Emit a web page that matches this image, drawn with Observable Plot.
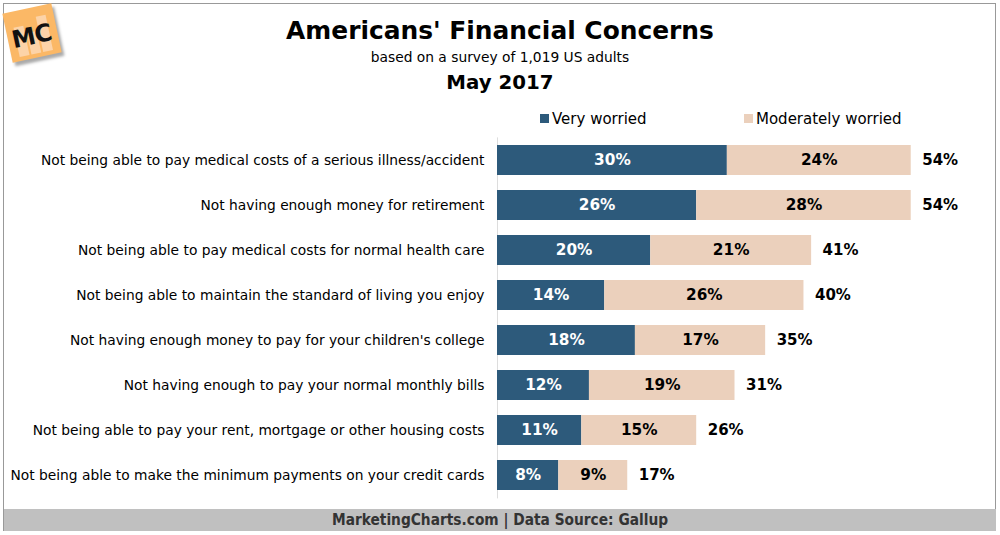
<!DOCTYPE html>
<html>
<head>
<meta charset="utf-8">
<script src="https://cdn.jsdelivr.net/npm/d3@7"></script>
<script src="https://cdn.jsdelivr.net/npm/@observablehq/plot@0.6"></script>
<style>
  html, body { margin: 0; padding: 0; background: #fff; }
  body { width: 1000px; height: 535px; position: relative; overflow: hidden; font-family: "DejaVu Sans", Verdana, sans-serif; }
  #frame { position: absolute; left: 3px; top: 3px; width: 993px; height: 528px; border: 1px solid #999; box-sizing: border-box; }
  .title { position: absolute; left: 0; width: 1000px; text-align: center; color: #000; }
  #t1 { top: 15.5px; font-size: 24.9px; font-weight: bold; }
  #t2 { top: 49px; font-size: 13.8px; }
  #t3 { top: 71px; font-size: 19.8px; font-weight: bold; }
  #legend { position: absolute; top: 110px; left: 0; width: 1000px; height: 20px; font-size: 15px; }
  .lg { position: absolute; top: 0; white-space: nowrap; }
  .sw { display: inline-block; width: 9px; height: 9px; margin-right: 3px; vertical-align: 1px; }
  #chart { position: absolute; left: 0; top: 131px; }
  #footer { position: absolute; left: 4px; top: 509px; width: 992px; height: 22px; background: #c0c0c0; text-align: center;
            font-family: "DejaVu Sans Condensed", "DejaVu Sans", sans-serif; font-stretch: condensed; font-weight: bold; font-size: 15.3px; line-height: 22px; color: #333; }
  #logo { position: absolute; left: 7px; top: 8px; width: 50px; height: 50px; transform: rotate(-12deg); background: #fbb866; box-shadow: 2px 4px 3px #aaa; }
  #logo span { position: absolute; left: 4px; top: 14px; font-family: "DejaVu Sans", sans-serif; font-weight: bold; font-size: 24px; color: #111; letter-spacing: -1px; }
  #logo .b { position: absolute; bottom: 4px; width: 10px; background: #fcd3a8; }
</style>
</head>
<body>
<div id="frame"></div>
<div id="logo"><div class="b" style="left:8px;height:30px"></div><div class="b" style="left:20px;height:22px"></div><div class="b" style="left:32px;height:36px"></div><span>MC</span></div>
<div class="title" id="t1">Americans' Financial Concerns</div>
<div class="title" id="t2">based on a survey of 1,019 US adults</div>
<div class="title" id="t3">May 2017</div>
<div id="legend"></div>
<div id="chart"></div>
<div id="footer">MarketingCharts.com | Data Source: Gallup</div>
<script>
const categories = [
  "Not being able to pay medical costs of a serious illness/accident",
  "Not having enough money for retirement",
  "Not being able to pay medical costs for normal health care",
  "Not being able to maintain the standard of living you enjoy",
  "Not having enough money to pay for your children's college",
  "Not having enough to pay your normal monthly bills",
  "Not being able to pay your rent, mortgage or other housing costs",
  "Not being able to make the minimum payments on your credit cards"
];
const series = ["Very worried", "Moderately worried"];
const veryWorried = [30, 26, 20, 14, 18, 12, 11, 8];
const moderatelyWorried = [24, 28, 21, 26, 17, 19, 15, 9];
const totals = [54, 54, 41, 40, 35, 31, 26, 17];
const colors = ["#2d5a7b", "#ebd0bc"];

const rows = [];
categories.forEach((c, i) => {
  rows.push({category: c, series: series[0], x1: 0, x2: veryWorried[i], value: veryWorried[i]});
  rows.push({category: c, series: series[1], x1: veryWorried[i], x2: veryWorried[i] + moderatelyWorried[i], value: moderatelyWorried[i]});
});
const totalRows = categories.map((c, i) => ({category: c, total: totals[i], end: veryWorried[i] + moderatelyWorried[i]}));

// legend
const legend = document.getElementById("legend");
[[540, 0], [744, 1]].forEach(([left, k]) => {
  const d = document.createElement("div");
  d.className = "lg";
  d.style.left = left + "px";
  d.innerHTML = `<span class="sw" style="background:${colors[k]}"></span>${series[k]}`;
  legend.appendChild(d);
});

const chart = Plot.plot({
  width: 1000,
  height: 370,
  marginLeft: 497,
  marginRight: 5,
  marginTop: 6.4,
  marginBottom: 2.6,
  style: {fontFamily: "'DejaVu Sans', Verdana, sans-serif", background: "transparent", color: "#000"},
  x: {domain: [0, 65], axis: null},
  y: {domain: categories, paddingInner: 0.33, paddingOuter: 0.165, label: null},
  color: {domain: series, range: colors},
  marks: [
    Plot.ruleX([0], {stroke: "#ddd", strokeWidth: 1}),
    Plot.barX(rows, {y: "category", x1: "x1", x2: "x2", fill: "series"}),
    Plot.text(rows, {y: "category", x: d => (d.x1 + d.x2) / 2, text: d => d.value + "%",
      fill: d => d.series === series[0] ? "#fff" : "#000", fontWeight: "bold", fontSize: 15.3}),
    Plot.text(totalRows, {y: "category", x: "end", text: d => d.total + "%", textAnchor: "start", dx: 11,
      fill: "#000", fontWeight: "bold", fontSize: 15}),
    Plot.axisY({tickSize: 0, tickPadding: 13, fontSize: 13.8, label: null})
  ]
});
document.getElementById("chart").appendChild(chart);
</script>
</body>
</html>
